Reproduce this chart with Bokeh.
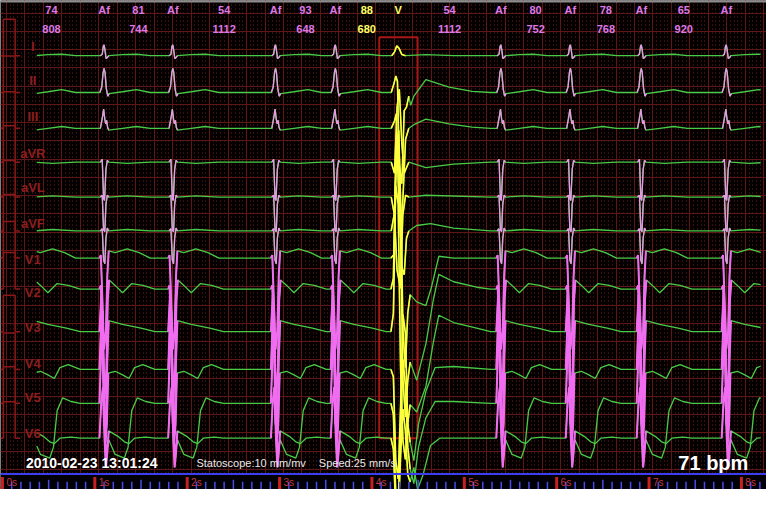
import numpy as np
from bokeh.plotting import figure
from bokeh.models import Range1d, ColumnDataSource, Grid, FixedTicker, Span
from bokeh.core.properties import value
from bokeh.embed import file_html
from bokeh.resources import INLINE

# ---------------- data ----------------
rr_ms = [808, 744, 1112, 648, 680, 1112, 752, 768, 920]
rate_text = ["74", "81", "54", "93", "88", "54", "80", "78", "65"]
rr_text = ["808", "744", "1112", "648", "680", "1112", "752", "768", "920"]
beat_kinds = ["Af", "Af", "Af", "Af", "Af", "V", "Af", "Af", "Af", "Af"]
first_beat_s = 0.292
leads = ["I", "II", "III", "aVR", "aVL", "aVF", "V1", "V2", "V3", "V4", "V5", "V6"]
timestamp = "2010-02-23 13:01:24"
scale_text = "Statoscope:10 mm/mv"
speed_text = "Speed:25 mm/s"
rate_total = "71 bpm"
second_labels = ["0s", "1s", "2s", "3s", "4s", "5s", "6s", "7s", "8s"]

# beat templates: (seconds from R, amplitude in mm)  10 mm = 1 mV
NORMAL_QRS = {
    "I":   [(-0.04, 0), (-0.02, 0.4), (-0.008, 2.6), (0.0, 3.0), (0.01, 1.5), (0.022, -0.8), (0.035, -0.5), (0.05, 0.0)],
    "II":  [(-0.045, 0), (-0.025, 1.5), (-0.01, 5.5), (0.0, 6.6), (0.01, 5.5), (0.025, 1.0), (0.04, -1.0), (0.055, -0.3)],
    "III": [(-0.04, 0), (-0.015, 3.5), (-0.005, 5.3), (0.008, 2.5), (0.018, 1.2), (0.028, 2.2), (0.038, 0.3), (0.05, -0.5)],
    "aVR": [(-0.04, 0), (-0.02, 0.8), (-0.005, -10), (0.005, -10.5), (0.02, -2), (0.035, 0.5), (0.05, 0)],
    "aVL": [(-0.04, 0), (-0.02, 0.5), (-0.005, -9), (0.008, -9.5), (0.02, -2), (0.035, 0.5), (0.05, 0)],
    "aVF": [(-0.04, 0), (-0.02, 0.6), (-0.005, -8), (0.008, -9), (0.02, -2), (0.035, 0.8), (0.05, 0)],
    "V1":  [(-0.05, 0), (-0.035, 0.8), (-0.02, -10), (0.0, -25), (0.02, -20), (0.035, -5), (0.05, 2)],
    "V2":  [(-0.05, 0), (-0.035, 1), (-0.015, -15), (0.005, -30), (0.025, -22), (0.04, -3), (0.055, 2.5)],
    "V3":  [(-0.05, 0), (-0.03, 10), (-0.015, -5), (0.0, -25), (0.02, -28), (0.035, -8), (0.05, 3)],
    "V4":  [(-0.05, 0), (-0.03, 14), (-0.015, 16), (0.0, -5), (0.015, -20), (0.03, -15), (0.045, -1)],
    "V5":  [(-0.05, 0), (-0.03, 15), (-0.012, 18), (0.005, -2), (0.02, -14), (0.035, -12), (0.05, -10)],
    "V6":  [(-0.05, 0), (-0.03, 10), (-0.012, 14), (0.005, 0), (0.02, -8), (0.035, -4), (0.05, 2)],
}
NORMAL_ST = {
    "I":   [(0.05, 0), (0.2, 0.3), (0.35, 0.4), (0.5, 0)],
    "II":  [(0.055, -0.3), (0.2, 0.2), (0.35, 0.8), (0.5, 0)],
    "III": [(0.05, -0.5), (0.2, 0), (0.35, 0.5), (0.5, 0)],
    "aVR": [(0.05, 0), (0.25, -0.3), (0.5, 0)],
    "aVL": [(0.05, 0), (0.25, 0.3), (0.5, 0)],
    "aVF": [(0.05, 0), (0.25, 0.4), (0.5, 0)],
    "V1":  [(0.05, 2), (0.12, 1.5), (0.25, 2.5), (0.38, 1.5), (0.5, 0)],
    "V2":  [(0.055, 2.5), (0.12, 1.0), (0.2, -1.0), (0.3, 1.5), (0.42, 1.0), (0.55, 0)],
    "V3":  [(0.05, 3), (0.2, 2), (0.4, 1), (0.55, 0)],
    "V4":  [(0.045, -1), (0.12, -0.5), (0.2, -1.5), (0.27, -2.5), (0.33, 0.5), (0.42, 1.3), (0.55, 0)],
    "V5":  [(0.05, -10), (0.12, -14), (0.22, -15), (0.26, -12), (0.3, -2), (0.36, 1.5), (0.45, 0.5), (0.55, 0)],
    "V6":  [(0.05, 2), (0.15, 0.5), (0.22, -1), (0.27, -1.5), (0.33, 0), (0.45, 0.3), (0.55, 0)],
}
PVC_QRS = {
    "I":   [(-0.07, 0), (-0.04, 1.0), (-0.015, 2.7), (0.01, 2.0), (0.04, 0.3), (0.08, 0)],
    "II":  [(-0.075, 0), (-0.045, 2.5), (-0.025, 4.5), (-0.008, 3), (0.012, -20), (0.04, -25), (0.065, -5), (0.09, -4), (0.115, -1)],
    "III": [(-0.075, 0), (-0.04, 2), (-0.02, 4), (0.0, -15), (0.025, -30), (0.05, -20), (0.08, -3), (0.115, 0)],
    "aVR": [(-0.075, 0), (-0.04, -3), (-0.012, 15), (0.012, 20), (0.04, 5), (0.065, -3), (0.115, 0)],
    "aVL": [(-0.075, 0), (-0.04, -5), (-0.012, -20), (0.025, -25), (0.05, -5), (0.08, 0.5), (0.115, 0)],
    "aVF": [(-0.075, 0), (-0.04, 5), (-0.012, 25), (0.012, 20), (0.04, -10), (0.065, -12), (0.09, -2), (0.115, 0)],
    "V1":  [(-0.078, 0), (-0.045, 1), (-0.02, 30), (0.006, 35), (0.032, 10), (0.052, -20), (0.078, -30), (0.104, -15), (0.13, -10)],
    "V2":  [(-0.078, 0), (-0.052, 3), (-0.026, 35), (0.0, 40), (0.026, 15), (0.052, -25), (0.078, -35), (0.104, -25), (0.13, -20)],
    "V3":  [(-0.078, 0), (-0.052, 5), (-0.026, 40), (0.0, 35), (0.026, -10), (0.052, -30), (0.078, -35), (0.104, -25), (0.13, -20)],
    "V4":  [(-0.078, 0), (-0.052, -2), (-0.026, -25), (0.0, -30), (0.026, -10), (0.052, 15), (0.078, 10), (0.104, -15), (0.13, -20)],
    "V5":  [(-0.078, 0), (-0.052, -3), (-0.026, -25), (0.0, -28), (0.026, -8), (0.052, 12), (0.078, 5), (0.104, -12), (0.13, -18)],
    "V6":  [(-0.078, 0), (-0.052, -3), (-0.026, -20), (0.0, -22), (0.026, -5), (0.052, 8), (0.078, 2), (0.104, -10), (0.13, -12)],
}
PVC_ST = {
    "I":   [(0.08, 0), (0.3, 0.3), (0.6, 0), (1.0, 0)],
    "II":  [(0.115, -1), (0.135, -3.5), (0.17, -1), (0.3, 3.5), (0.55, 1.5), (0.8, 0.3), (1.0, 0)],
    "III": [(0.115, 0), (0.17, 1), (0.3, 2.5), (0.55, 1.2), (0.8, 0.3), (1.0, 0)],
    "aVR": [(0.115, 0), (0.3, -1.5), (0.6, -0.5), (1.0, 0)],
    "aVL": [(0.115, 0), (0.3, 0.5), (1.0, 0)],
    "aVF": [(0.115, 0), (0.2, 1.5), (0.35, 2), (0.6, 0.8), (1.0, 0)],
    "V1":  [(0.13, -10), (0.2, -12), (0.3, -13), (0.36, -8), (0.44, 0.5), (0.6, 0), (1.0, 0)],
    "V2":  [(0.13, -20), (0.2, -25), (0.3, -15), (0.38, -3), (0.44, 4), (0.6, 2), (0.85, 0.5), (1.0, 0)],
    "V3":  [(0.13, -20), (0.2, -22), (0.3, -15), (0.38, -3), (0.44, 4.5), (0.6, 2.5), (0.85, 1), (1.0, 0)],
    "V4":  [(0.13, -20), (0.17, -25), (0.22, -15), (0.3, -6), (0.4, 0.5), (0.6, 0.8), (1.0, 0)],
    "V5":  [(0.13, -18), (0.17, -22), (0.22, -12), (0.3, -4), (0.4, 0.5), (0.6, 0.5), (1.0, 0)],
    "V6":  [(0.13, -12), (0.17, -8), (0.21, -14), (0.27, -10), (0.35, -2), (0.45, 0), (1.0, 0)],
}

# ---------------- layout (reference pixel geometry) ----------------
PX_PER_S = 94.3
PX_PER_MM = 3.77
X0_PX = 2.0
H_PX = 505.0
W_PX = 782.0


def px2t(x):
    return (x - X0_PX) / PX_PER_S


def px2mm(y):
    return (H_PX - y) / PX_PER_MM


lead_base_px = [57, 95, 132, 167, 203, 238, 266, 298, 342, 381, 416, 452]
lead_label_px = [47, 83, 120, 158, 193, 230, 267, 302, 338, 375, 410, 447]
TRACE_START = px2t(37)
TRACE_END = px2t(776)

BG = "#050000"
GREEN = "#48cc48"
PINK_LIMB = "#e89ae8"
PINK_V = "#f26cf2"
YELLOW = "#ffff3c"
LABEL_PINK = "#de78e6"
LABEL_YELLOW = "#ffff66"
DARK_RED = "#8c1e1e"
FONT = value("Liberation Sans")

beat_times = first_beat_s + np.concatenate([[0.0], np.cumsum(rr_ms) / 1000.0])

p = figure(width=766, height=489, x_range=Range1d(px2t(0), px2t(W_PX)),
           y_range=Range1d(px2mm(H_PX), px2mm(0)),
           x_axis_location=None, y_axis_location=None,
           toolbar_location=None, output_backend="svg", min_border=0,
           background_fill_color=BG, border_fill_color=BG, outline_line_color=None)
# drop the default grids, use ECG paper grid instead
p.center = [r for r in p.center if not isinstance(r, Grid)]

xmaj = [px2t(6) + 0.2 * k for k in range(-1, 43)]
xmin = [px2t(6) + 0.04 * k for k in range(-5, 210)]
ymaj = [0.5 + 5 * k for k in range(0, 28)]
ymin = [0.5 + k for k in range(0, 135)]
gx = Grid(dimension=0, ticker=FixedTicker(ticks=xmaj, minor_ticks=xmin),
          grid_line_color="#5e1616", grid_line_width=1,
          minor_grid_line_color="#7a2a2a", minor_grid_line_dash="1 3", minor_grid_line_alpha=0.8)
gy = Grid(dimension=1, ticker=FixedTicker(ticks=ymaj, minor_ticks=ymin),
          grid_line_color="#5e1616", grid_line_width=1)
p.add_layout(gx)
p.add_layout(gy)

# ruler background at bottom
p.quad(left=[px2t(0)], right=[px2t(W_PX)], bottom=[px2mm(H_PX)], top=[px2mm(489)],
       fill_color="#000006", line_color=None)

# calibration pulses and red box around the ventricular beat
cal_xs, cal_ys = [], []
for bpx in lead_base_px:
    b = px2mm(bpx)
    cal_xs.append([px2t(0), px2t(3), px2t(3), px2t(15), px2t(15), px2t(20)])
    cal_ys.append([b, b, b + 10, b + 10, b, b])
p.multi_line(cal_xs, cal_ys, line_color="#8a1818", line_width=1.5)

pvc_t = beat_times[beat_kinds.index("V")]
p.quad(left=[pvc_t - 0.205], right=[pvc_t + 0.21], bottom=[px2mm(452)], top=[px2mm(38)],
       fill_color=None, line_color="#a81616", line_width=2)

# traces
green_xs, green_ys = [], []
hi_xs, hi_ys, hi_col, hi_w = [], [], [], []
for li, lead in enumerate(leads):
    base = px2mm(lead_base_px[li])
    ts, vs = [], []
    for bt, kind in zip(beat_times, beat_kinds):
        q = NORMAL_QRS[lead] if kind == "Af" else PVC_QRS[lead]
        s = NORMAL_ST[lead] if kind == "Af" else PVC_ST[lead]
        for dt, v in q + s[1:]:
            ts.append(bt + dt)
            vs.append(base + v)
        qt = np.array([bt + dt for dt, _ in q])
        qv = np.array([base + v for _, v in q])
        keep = (qt >= TRACE_START) & (qt <= TRACE_END)
        if keep.sum() >= 2:
            hi_xs.append(list(qt[keep]))
            hi_ys.append(list(qv[keep]))
            if kind == "V":
                hi_col.append(YELLOW)
                hi_w.append(1.6)
            else:
                hi_col.append(PINK_LIMB if li < 6 else PINK_V)
                hi_w.append(1.3 if li < 6 else 2.0)
    ts = np.array(ts)
    vs = np.array(vs)
    v_start = np.interp(TRACE_START, ts, vs)
    v_end = np.interp(TRACE_END, ts, vs, right=base)
    keep = (ts > TRACE_START) & (ts < TRACE_END)
    green_xs.append([TRACE_START] + list(ts[keep]) + [TRACE_END])
    green_ys.append([v_start] + list(vs[keep]) + [v_end])

p.multi_line(green_xs, green_ys, line_color=GREEN, line_width=1.3)
p.multi_line(hi_xs, hi_ys, line_color=hi_col, line_width=hi_w)

# lead labels
p.text(x=[px2t(33)] * len(leads), y=[px2mm(v) for v in lead_label_px], text=leads,
       text_color=DARK_RED, text_font=FONT, text_font_style="bold", text_font_size="13px",
       text_align="center", text_baseline="middle")

# top annotations
mids = [(beat_times[i] + beat_times[i + 1]) / 2 for i in range(len(rr_ms))]
mids[0] = px2t(52)
mid_col = [LABEL_YELLOW if beat_kinds[i + 1] == "V" else LABEL_PINK for i in range(len(rr_ms))]
p.text(x=mids, y=[px2mm(10)] * len(mids), text=rate_text, text_color=mid_col,
       text_font=FONT, text_font_style="bold", text_font_size="11px",
       text_align="center", text_baseline="middle")
p.text(x=mids, y=[px2mm(29)] * len(mids), text=rr_text, text_color=mid_col,
       text_font=FONT, text_font_style="bold", text_font_size="11px",
       text_align="center", text_baseline="middle")
bt_vis = list(beat_times[1:])
kinds_vis = beat_kinds[1:]
p.text(x=bt_vis, y=[px2mm(10)] * len(bt_vis), text=kinds_vis,
       text_color=[LABEL_YELLOW if k == "V" else LABEL_PINK for k in kinds_vis],
       text_font=FONT, text_font_style="bold", text_font_size="11px",
       text_align="center", text_baseline="middle")

# top border
p.add_layout(Span(location=px2mm(1), dimension="width", line_color="#8c8c8c", line_width=2))

# bottom texts
p.text(x=[px2t(26)], y=[px2mm(478)], text=[timestamp], text_color="white", text_font=FONT,
       text_font_style="bold", text_font_size="14px", text_baseline="middle")
p.text(x=[px2t(200), px2t(325)], y=[px2mm(478)] * 2, text=[scale_text, speed_text],
       text_color="#e8e8e8", text_font=FONT, text_font_size="11px", text_baseline="middle")
p.text(x=[px2t(692)], y=[px2mm(478)], text=[rate_total], text_color="white", text_font=FONT,
       text_font_style="bold", text_font_size="20px", text_baseline="middle")

# time ruler
p.add_layout(Span(location=px2mm(489), dimension="width", line_color="#3c3cf0", line_width=2))
tick_t = [k / 10 for k in range(0, 83) if k % 10 != 0]
p.segment(x0=tick_t, y0=[px2mm(H_PX)] * len(tick_t), x1=tick_t,
          y1=[px2mm(497) if round(t * 10) % 5 else px2mm(495) for t in tick_t],
          line_color="#4a4ae8", line_width=1.5)
sec_t = list(range(len(second_labels)))
p.segment(x0=sec_t, y0=[px2mm(H_PX)] * len(sec_t), x1=sec_t, y1=[px2mm(492)] * len(sec_t),
          line_color="#c82020", line_width=3)
p.text(x=[t + px2t(4) - px2t(0) for t in sec_t], y=[px2mm(498)] * len(sec_t), text=second_labels,
       text_color="#c83838", text_font=FONT, text_font_size="10px", text_baseline="middle")

open("out.html", "w").write(file_html(p, INLINE))
